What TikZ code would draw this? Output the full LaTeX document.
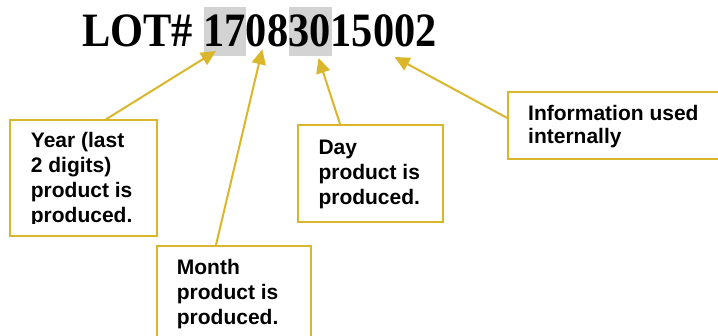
\documentclass[tikz,border=0pt]{standalone}
\usepackage{fontspec}
\setmainfont{Liberation Serif}
\setsansfont{Liberation Sans}
\usetikzlibrary{arrows.meta}
\definecolor{gold}{RGB}{218,182,42}
\definecolor{hl}{RGB}{211,211,211}
\tikzset{
  box/.style={draw=gold, line width=2pt, rectangle, inner sep=0pt, anchor=north west},
  lbl/.style={anchor=base west, inner sep=0pt, font=\sffamily\bfseries\fontsize{21}{25}\selectfont},
  arr/.style={draw=gold, line width=2pt, -{Triangle[length=15pt,width=14pt]}},
  hlbox/.style={fill=hl, draw=none, rectangle, inner sep=0pt, anchor=north west}
}
\begin{document}
\begin{tikzpicture}[x=1pt,y=-1pt]
\useasboundingbox (0,0) rectangle (718,335);
\clip (0,0) rectangle (718,335);
% highlights
\node[hlbox, minimum width=42.4pt, minimum height=49pt] (hl1) at (203.3,6.7) {};
\node[hlbox, minimum width=42.4pt, minimum height=49pt] (hl2) at (289,6.7) {};
% title
\node[anchor=base west, inner sep=0pt, font=\rmfamily\bfseries\fontsize{42.4}{42.4}\selectfont] (title) at (82,46.7) {\scalebox{1}[1.13]{LOT\# 17083015002}};
% boxes
\node[box, minimum width=146.7pt, minimum height=115.7pt] (year) at (9.3,119.3) {};
\node[box, minimum width=154pt, minimum height=110pt] (month) at (156,245) {};
\node[box, minimum width=145pt, minimum height=96.7pt] (day) at (297.3,124) {};
\node[box, minimum width=240pt, minimum height=67pt] (info) at (507.3,90.7) {};
% texts
\begin{scope}
\clip (9,119) rectangle (157,223.5);
\node[lbl] (yeart) at (30.7,147.3) {\begin{tabular}[t]{@{}l@{}}Year (last\\2 digits)\\product is\\produced.\end{tabular}};
\end{scope}
\node[lbl] (montht) at (176.7,274.3) {\begin{tabular}[t]{@{}l@{}}Month\\product is\\produced.\end{tabular}};
\node[lbl] (dayt) at (318.3,154.5) {\begin{tabular}[t]{@{}l@{}}Day\\product is\\produced.\end{tabular}};
\node[lbl, font=\sffamily\bfseries\fontsize{21}{23.5}\selectfont] (infot) at (528,120) {\begin{tabular}[t]{@{}l@{}}Information used\\internally\end{tabular}};
% arrow tips
\coordinate (tY) at (216,51);
\coordinate (tM) at (262.3,49.3);
\coordinate (tD) at (318.5,58);
\coordinate (tI) at (394.5,57);
% arrows
\draw[arr] ([xshift=96.7pt]year.north west) -- (tY);
\draw[arr] ([xshift=60pt]month.north west) -- (tM);
\draw[arr] ([xshift=42.7pt]day.north west) -- (tD);
\draw[arr] ([yshift=-27.3pt]info.north west) -- (tI);
\end{tikzpicture}
\end{document}
